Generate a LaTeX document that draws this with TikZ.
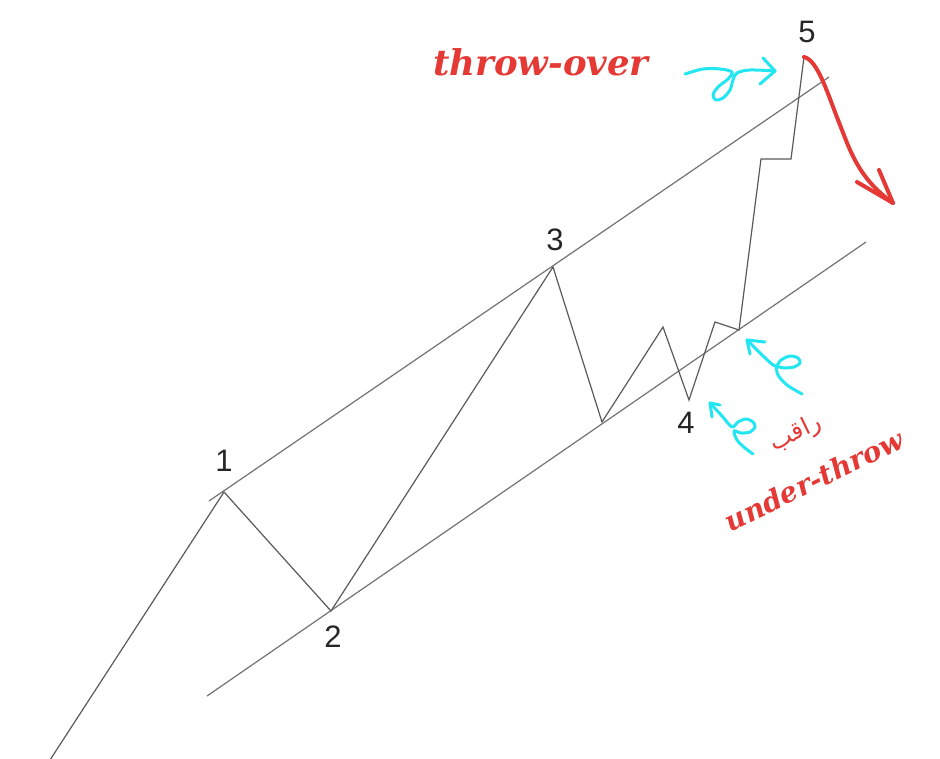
\documentclass[tikz,border=0pt]{standalone}
\usepackage{fontspec}
\TeXXeTstate=1
\newfontfamily\digitfont{Liberation Sans}
\newfontfamily\redfont{DejaVu Serif}
\newfontfamily\arabicfont[Script=Arabic]{DejaVu Sans}
\definecolor{wavegray}{HTML}{5A5A5A}
\definecolor{penred}{HTML}{E53935}
\definecolor{pencyan}{HTML}{22E6F2}
\begin{document}
\begin{tikzpicture}[x=1pt,y=-1pt,
  wave/.style={draw=wavegray,line width=1.2pt,line join=miter},
  chan/.style={draw=wavegray!85,line width=1.2pt},
  digit/.style={font=\digitfont\fontsize{31}{31}\selectfont,text=black!85,inner sep=0pt},
  redlabel/.style={font=\redfont\bfseries\itshape\fontsize{35.5}{35.5}\selectfont,text=penred,inner sep=0pt},
  cyanpen/.style={draw=pencyan,line width=3pt,line cap=round,line join=round},
  redpen/.style={draw=penred,line width=4pt,line cap=round,line join=round}]
\useasboundingbox (0,0) rectangle (940,758);
\fill[white] (0,0) rectangle (940,758);
% channel lines
\coordinate (ua) at (209,501); \coordinate (ub) at (829,77);
\coordinate (la) at (207,696); \coordinate (lb) at (866,242);
\draw[chan] (ua) -- (ub);
\draw[chan] (la) -- (lb);
% wave points
\coordinate (w0) at (50,760);
\coordinate (w1) at (224,492);
\coordinate (w2) at (331,611);
\coordinate (w3) at (553,267);
\coordinate (a) at (602,422);
\coordinate (b) at (663,327);
\coordinate (w4) at (689,400);
\coordinate (c) at (715,322);
\coordinate (d) at (739,330);
\coordinate (e) at (761,159);
\coordinate (f) at (791,159);
\coordinate (w5) at (804,57);
\draw[wave] (w0) -- (w1) -- (w2) -- (w3) -- (a) -- (b) -- (w4) -- (c) -- (d) -- (e) -- (f) -- (w5);
% labels
\node[digit] (n1) at (224,461) {1};
\node[digit] (n2) at (333,637) {2};
\node[digit] (n3) at (555,240) {3};
\node[digit] (n4) at (686,423) {4};
\node[digit] (n5) at (807,32) {5};
\node[redlabel,anchor=base west] (tover) at (433,75) {throw-over};
\node[redlabel,font=\redfont\bfseries\itshape\fontsize{28}{28}\selectfont,rotate=26] (uthrow) at (814,480) {under-throw};
\node[text=penred,font=\arabicfont\fontsize{24}{24}\selectfont,rotate=26,inner sep=0pt] (raqib) at (796,434) {\beginR راقب\endR};
% red arrow
\coordinate (rt) at (893,203);
\coordinate (ra1) at (857,182);
\coordinate (ra2) at (879,170);
\draw[redpen] (w5) .. controls (818,60) and (828,95) .. (840,125) .. controls (850,150) and (858,178) .. (893,203);
\draw[redpen] (ra1) -- (rt) -- (ra2);
% cyan arrow top
\coordinate (ct) at (775,71);
\draw[cyanpen] plot[smooth,tension=0.55] coordinates {(685,74) (703,69) (720,69) (732,72) (728,79) (718,87) (713,95) (716,100) (723,98) (730,90) (733,80) (737,73) (750,70) (775,71)};
\draw[cyanpen] (763,58) -- (ct) -- (760,84);
% cyan arrow near 4
\coordinate (c4) at (710,403);
\draw[cyanpen] plot[smooth,tension=0.5] coordinates {(710,403) (722,416) (732,427) (738,422) (746,419) (753,422) (755,427) (750,432) (741,433) (734,431) (737,440) (745,448) (753,454)};
\draw[cyanpen] (720,405) -- (c4) -- (712,417);
% cyan arrow near base
\coordinate (c5) at (747,340);
\draw[cyanpen] plot[smooth,tension=0.5] coordinates {(747,340) (761,354) (775,366) (781,360) (790,356) (798,358) (800,363) (794,367) (784,368) (777,367) (778,375) (787,385) (802,394)};
\draw[cyanpen] (765,342) -- (c5) -- (750,354);
\end{tikzpicture}
\end{document}
